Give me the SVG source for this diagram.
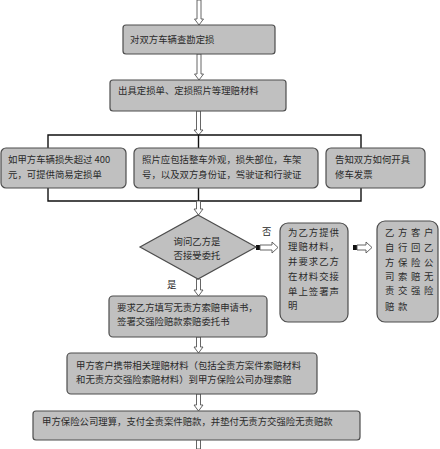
<svg xmlns="http://www.w3.org/2000/svg" width="440" height="449" viewBox="0 0 440 449">
<style>
.box{fill:#c0c0c0;stroke:#4d4d4d;stroke-width:1.2}
.t{font-family:"Noto Sans CJK SC","Noto Sans",sans-serif;font-size:9.4px;fill:#2a2a2a}
.ha{fill:#fff;stroke:#555;stroke-width:0.9}
.ln{fill:none;stroke:#111;stroke-width:1.4}
.sq{fill:#111}
</style>
<rect width="440" height="449" fill="#fff"/>
<g id="connectors">
<polygon class="ha" points="197,0 201,0 201,19 203.5,19 199,25 194.5,19 197,19"/>
<polygon class="ha" points="197,54 201,54 201,74 203.5,74 199,80 194.5,74 197,74"/>
<polygon class="ha" points="196.5,111 200.5,111 200.5,130 203,130 198.5,135 194,130 196.5,130"/>
<path class="ln" d="M48,148 V135 H361 V148 M198.5,135 V148"/>
<path class="ln" d="M48,188 V201 H361 V188 M198.5,188 V201"/>
<polygon class="ha" points="196.5,201 200.5,201 200.5,209 203,209 198.5,215 194,209 196.5,209"/>
<polygon class="ha" points="196.5,279 200.5,279 200.5,290 203,290 198.5,296 194,290 196.5,290"/>
<polygon class="ha" points="196.5,337 200.5,337 200.5,347 203,347 198.5,353 194,347 196.5,347"/>
<polygon class="ha" points="196.5,394 200.5,394 200.5,405 203,405 198.5,411 194,405 196.5,405"/>
<polygon class="ha" points="196.5,440 200.5,440 200.5,449 196.5,449"/>
<rect class="sq" x="256" y="245" width="4" height="5"/>
<polygon class="ha" points="260,245 272,245 272,242 278,247.5 272,253 272,250 260,250"/>
<rect class="sq" x="353" y="245" width="4" height="5"/>
<polygon class="ha" points="357,245 366,245 366,242 372,247.5 366,253 366,250 357,250"/>
<text class="t" x="262" y="235">否</text>
<text class="t" x="167" y="288">是</text>
</g>
<g id="n1"><rect class="box" x="123" y="25" width="152" height="29" rx="3"/><text class="t" x="130" y="43">对双方车辆查勘定损</text></g>
<g id="n2"><rect class="box" x="110" y="80" width="176" height="31" rx="3"/><text class="t" x="118" y="94">出具定损单、定损照片等理赔材料</text></g>
<g id="n3"><rect class="box" x="1" y="148" width="125" height="40" rx="5"/><text class="t" x="8" y="163">如甲方车辆损失超过 400</text><text class="t" x="8" y="178">元，可提供简易定损单</text></g>
<g id="n4"><rect class="box" x="134" y="148" width="184" height="40" rx="5"/><text class="t" x="142" y="163">照片应包括整车外观，损失部位，车架</text><text class="t" x="142" y="178">号，以及双方身份证，驾驶证和行驶证</text></g>
<g id="n5"><rect class="box" x="326" y="148" width="99" height="40" rx="5"/><text class="t" x="335" y="163">告知双方如何开具</text><text class="t" x="335" y="178">修车发票</text></g>
<g id="n6"><polygon class="box" points="198,215 256,247 198,279 140,247"/><text class="t" x="197" y="245" text-anchor="middle">询问乙方是</text><text class="t" x="197" y="259" text-anchor="middle">否接受委托</text></g>
<g id="n7"><rect class="box" x="280" y="223" width="68" height="99" rx="8"/>
<text class="t" x="288" y="236" letter-spacing="1">为乙方提供</text><text class="t" x="288" y="250" letter-spacing="1">理赔材料，</text><text class="t" x="288" y="265" letter-spacing="1">并要求乙方</text><text class="t" x="288" y="280" letter-spacing="1">在材料交接</text><text class="t" x="288" y="295" letter-spacing="1">单上签署声</text><text class="t" x="288" y="309" letter-spacing="1">明</text></g>
<g id="n8"><rect class="box" x="377" y="221" width="61" height="101" rx="8"/>
<text class="t" x="385" y="236" letter-spacing="3.6">乙方客户</text><text class="t" x="385" y="251" letter-spacing="3.6">自行回乙</text><text class="t" x="385" y="266" letter-spacing="3.6">方保险公</text><text class="t" x="385" y="280" letter-spacing="3.6">司索赔无</text><text class="t" x="385" y="294" letter-spacing="3.6">责交强险</text><text class="t" x="385" y="310" letter-spacing="3.6">赔款</text></g>
<g id="n9"><rect class="box" x="109" y="296" width="158" height="41" rx="4"/><text class="t" x="117" y="311">要求乙方填写无责方索赔申请书，</text><text class="t" x="117" y="325">签署交强险赔款索赔委托书</text></g>
<g id="n10"><rect class="box" x="67" y="353" width="250" height="41" rx="4"/><text class="t" x="76" y="369">甲方客户携带相关理赔材料（包括全责方案件索赔材料</text><text class="t" x="76" y="383">和无责方交强险索赔材料）到甲方保险公司办理索赔</text></g>
<g id="n11"><rect class="box" x="33" y="411" width="327" height="29" rx="3"/><text class="t" x="42" y="425">甲方保险公司理算，支付全责案件赔款，并垫付无责方交强险无责赔款</text></g>
</svg>
